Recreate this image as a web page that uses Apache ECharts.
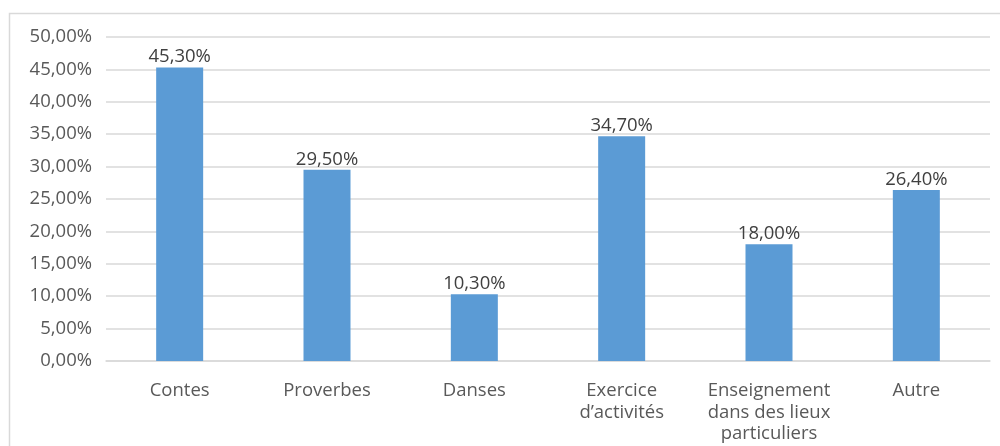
<!DOCTYPE html>
<html><head><meta charset="utf-8">
<script src="https://cdn.jsdelivr.net/npm/echarts@6/dist/echarts.min.js"></script>
<style>html,body{margin:0;padding:0;background:#fff}#c{width:1000px;height:446px}</style>
</head><body><div id="c"></div>
<script>
const categories = ['Contes', 'Proverbes', 'Danses', 'Exercice\nd\u2019activités', 'Enseignement\ndans des lieux\nparticuliers', 'Autre'];
const values = [45.3, 29.5, 10.3, 34.7, 18.0, 26.4];
const fmt = v => v.toFixed(2).replace('.', ',') + '%';
const chart = echarts.init(document.getElementById('c'));
const font = '"Open Sans", "Liberation Sans", sans-serif';
chart.setOption({
  animation: false,
  textStyle: {fontFamily: font},
  graphic: [{type: 'rect', shape: {x: 9.5, y: 13.5, width: 1100, height: 600}, style: {fill: null, stroke: '#d9d9d9', lineWidth: 1.5}, z: -1}],
  grid: {left: 106, right: 10, top: 37, bottom: 85, containLabel: false},
  xAxis: {type: 'category', data: categories,
    axisLine: {lineStyle: {color: '#d9d9d9', width: 1.5}}, axisTick: {show: false},
    axisLabel: {color: '#595959', fontSize: 18.5, margin: 19, lineHeight: 21.5, fontFamily: font, interval: 0}},
  yAxis: {type: 'value', min: 0, max: 50, interval: 5,
    axisLine: {show: false}, axisTick: {show: false},
    splitLine: {lineStyle: {color: '#d9d9d9', width: 1.5}},
    axisLabel: {color: '#595959', fontSize: 18.5, margin: 14, formatter: v => fmt(v), fontFamily: font}},
  series: [{type: 'bar', data: values, barWidth: 47, itemStyle: {color: '#5b9bd5'},
    label: {show: true, position: 'top', distance: 1, color: '#404040', fontSize: 18.5, fontFamily: font, formatter: p => fmt(p.value)}}]
});
</script></body></html>
